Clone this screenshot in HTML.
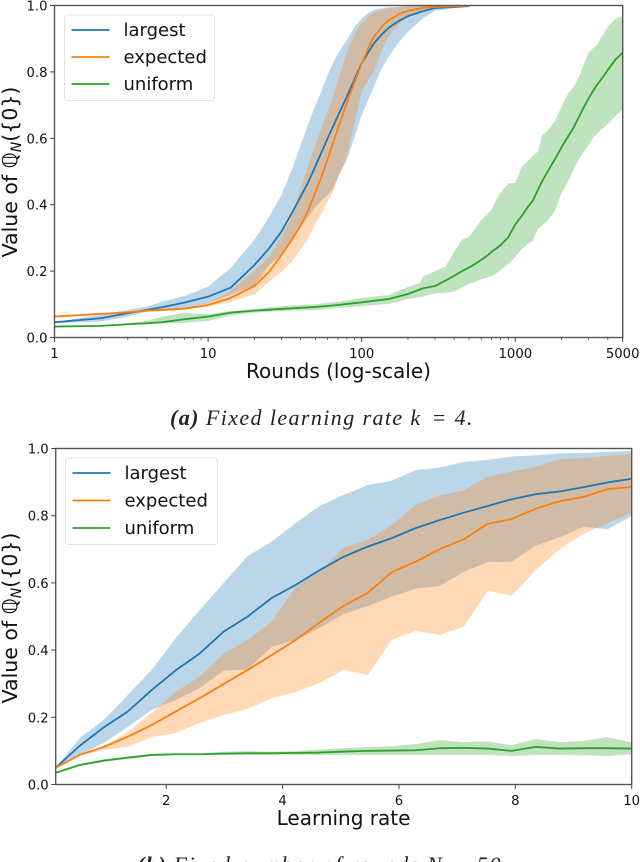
<!DOCTYPE html>
<html>
<head>
<meta charset="utf-8">
<style>
html,body{margin:0;padding:0;background:#fff;width:640px;height:862px;overflow:hidden}
svg{display:block;filter:blur(0.3px)}
text{font-family:"DejaVu Sans","Liberation Sans",sans-serif;fill:#111}
.cap{font-family:"Liberation Serif",serif;font-style:italic;fill:#222}
</style>
</head>
<body>
<svg id="fig" xmlns="http://www.w3.org/2000/svg" width="640" height="862" viewBox="0 0 640 862"></svg>
<script>
// Chart (a): rounds on a log axis
const roundsA = [1,2,3,4,5,7,10,14,20,25,30,35,40,45,50,55,60,65,70,80,90,100,110,120,135,150,175,200,250,300,500];
const largestMeanA = [.046,.058,.073,.083,.091,.105,.123,.15,.218,.269,.319,.374,.424,.469,.517,.56,.60,.635,.668,.725,.779,.826,.858,.886,.913,.933,.954,.968,.983,.992,.998];
const largestUpperA = [.047,.068,.083,.093,.108,.125,.153,.209,.294,.364,.429,.505,.58,.645,.70,.745,.791,.826,.856,.896,.936,.961,.978,.987,.992,.995,.996,.998,.999,.999,1];
const largestLowerA = [.043,.048,.063,.078,.082,.088,.104,.128,.158,.218,.251,.289,.334,.364,.392,.414,.429,.449,.484,.535,.605,.67,.715,.755,.811,.846,.891,.921,.961,.984,.998];
const expectedMeanA = [.063,.071,.076,.081,.083,.087,.098,.119,.155,.198,.248,.294,.337,.384,.439,.487,.538,.585,.63,.707,.77,.824,.871,.906,.936,.956,.974,.984,.993,.996,.999];
const expectedUpperA = [.064,.072,.078,.084,.086,.09,.105,.14,.203,.243,.303,.364,.449,.52,.583,.635,.683,.72,.776,.856,.914,.947,.966,.978,.988,.992,.995,.997,.998,.999,1];
const expectedLowerA = [.062,.07,.074,.078,.08,.083,.094,.107,.13,.168,.198,.228,.264,.299,.344,.375,.409,.439,.48,.545,.65,.74,.776,.80,.866,.908,.944,.966,.988,.995,.998];
const roundsUniformA = [1,2,3,4,5,7,10,14,20,30,50,70,100,150,200,240,250,300,350,400,450,500,550,600,650,700,750,800,900,1000,1100,1200,1300,1400,1500,1600,1800,2000,2200,2400,2600,2800,3000,3200,3400,3600,3800,4000,4500,5000];
const uniformMeanA = [.033,.035,.04,.043,.046,.055,.063,.075,.081,.086,.092,.098,.106,.116,.131,.145,.148,.155,.171,.186,.20,.211,.222,.234,.245,.258,.268,.278,.302,.341,.366,.392,.412,.444,.472,.495,.535,.573,.605,.633,.665,.695,.72,.742,.761,.776,.791,.806,.838,.858];
const uniformUpperA = [.034,.036,.042,.05,.063,.074,.07,.08,.085,.095,.10,.108,.119,.128,.152,.165,.183,.20,.213,.258,.294,.304,.329,.354,.369,.386,.414,.436,.464,.466,.514,.53,.547,.56,.61,.62,.65,.695,.735,.755,.786,.826,.858,.871,.883,.901,.918,.936,.961,.968];
const uniformLowerA = [.032,.034,.037,.04,.042,.044,.05,.066,.075,.08,.083,.089,.095,.101,.116,.122,.123,.133,.135,.138,.151,.161,.168,.175,.18,.185,.193,.203,.221,.243,.266,.281,.292,.326,.339,.349,.379,.434,.469,.507,.538,.56,.58,.60,.613,.625,.633,.643,.667,.687];
const xTicksA = [1,10,100,1000,5000];
const xMinorA = [2,3,4,5,6,7,8,9,20,30,40,50,60,70,80,90,200,300,400,500,600,700,800,900,2000,3000,4000];
const yTicks = [0,0.2,0.4,0.6,0.8,1.0];

// Chart (b): learning rate on a linear axis
const ratesB = [0.1,0.5125,0.925,1.3375,1.75,2.1625,2.575,2.9875,3.4,3.8125,4.225,4.6375,5.05,5.4625,5.875,6.2875,6.7,7.1125,7.525,7.9375,8.35,8.7625,9.175,9.5875,10];
const largestMeanB = [.05,.115,.17,.217,.281,.34,.39,.455,.50,.555,.594,.638,.678,.708,.733,.763,.787,.809,.829,.849,.864,.872,.885,.899,.91];
const largestUpperB = [.05,.138,.192,.266,.341,.436,.519,.60,.68,.723,.778,.829,.862,.891,.904,.936,.943,.96,.966,.976,.98,.985,.987,.99,.993];
const largestLowerB = [.05,.088,.123,.171,.222,.251,.287,.339,.342,.41,.43,.466,.507,.531,.559,.583,.591,.633,.662,.663,.711,.736,.767,.76,.799];
const expectedMeanB = [.05,.088,.112,.142,.177,.217,.257,.299,.341,.385,.43,.482,.532,.57,.632,.663,.70,.73,.776,.79,.821,.843,.856,.879,.886];
const expectedUpperB = [.05,.088,.112,.157,.213,.276,.321,.39,.43,.485,.589,.633,.705,.728,.772,.832,.86,.875,.916,.931,.946,.968,.972,.978,.984];
const expectedLowerB = [.05,.085,.103,.112,.141,.153,.183,.207,.225,.257,.275,.302,.341,.326,.43,.457,.445,.47,.576,.562,.638,.70,.746,.778,.81];
const uniformMeanB = [.035,.058,.071,.08,.088,.09,.09,.092,.093,.093,.094,.095,.098,.10,.101,.102,.108,.109,.107,.10,.112,.107,.108,.108,.107];
const uniformUpperB = [.035,.06,.075,.083,.09,.092,.092,.098,.099,.098,.099,.104,.108,.112,.114,.12,.132,.126,.128,.117,.135,.126,.13,.141,.125];
const uniformLowerB = [.035,.055,.067,.076,.085,.088,.088,.088,.088,.088,.089,.088,.088,.088,.088,.088,.088,.088,.088,.085,.088,.088,.087,.085,.09];
const xTicksB = [2,4,6,8,10];

const seriesNames = ['largest','expected','uniform'];
const seriesColors = ['#1f77b4','#ff7f0e','#2ca02c'];

const NS = 'http://www.w3.org/2000/svg';
const fig = document.getElementById('fig');
function mk(tag, attrs, parent){
  const e = document.createElementNS(NS, tag);
  for (const k in attrs) e.setAttribute(k, attrs[k]);
  (parent || fig).appendChild(e);
  return e;
}
function pathFrom(xs, ys, sx, sy){
  return xs.map((v,i)=>(i?'L':'M')+sx(v).toFixed(2)+' '+sy(ys[i]).toFixed(2)).join('');
}
function bandFrom(xs, up, lo, sx, sy){
  let d = pathFrom(xs, up, sx, sy);
  for (let i = xs.length-1; i >= 0; i--) d += 'L'+sx(xs[i]).toFixed(2)+' '+sy(lo[i]).toFixed(2);
  return d+'Z';
}
function drawChart(id, box, sx, series, xTicks, xMinor, xTickLabelFn, xTitle, xTitleX, xTitleY, legend, yTitleY){
  const sy = v => box.bottom - (box.bottom-box.top)*v;
  const root = mk('g', {});
  
  
  const clip = mk('clipPath', {id:id+'-clip'}, root);
  mk('rect', {x:box.left,y:box.top,width:box.right-box.left,height:box.bottom-box.top}, clip);
  const plot = mk('g', {'clip-path':'url(#'+id+'-clip)'}, root);
  
  
  series.forEach((s,i)=>{
    const band = mk('path', {d:bandFrom(s.x,s.up,s.lo,sx,sy),fill:seriesColors[i],'fill-opacity':0.3,stroke:'none'}, plot);
    
    
  });
  series.forEach((s,i)=>{
    const line = mk('path', {d:pathFrom(s.x,s.mean,sx,sy),fill:'none',stroke:seriesColors[i],'stroke-width':1.8,'stroke-linejoin':'round'}, plot);
    
    
  });
  // frame
  const frame = mk('rect', {x:box.left,y:box.top,width:box.right-box.left,height:box.bottom-box.top,fill:'none',stroke:'#555','stroke-width':1.4}, root);
  
  
  // y ticks
  yTicks.forEach(v=>{
    const t = mk('line', {x1:box.left-4.5,x2:box.left,y1:sy(v),y2:sy(v),stroke:'#444','stroke-width':1}, root);
    
    
    const l = mk('text', {x:box.left-7,y:sy(v)+5,'text-anchor':'end','font-size':13.2}, root);
    
    
    l.textContent = v.toFixed(1);
  });
  // x ticks
  xTicks.forEach(v=>{
    const t = mk('line', {x1:sx(v),x2:sx(v),y1:box.bottom,y2:box.bottom+4.5,stroke:'#444','stroke-width':1}, root);
    
    
    const l = mk('text', {x:sx(v),y:box.bottom+20.5,'text-anchor':'middle','font-size':13.2}, root);
    
    
    l.textContent = xTickLabelFn(v);
  });
  xMinor.forEach(v=>{
    const t = mk('line', {x1:sx(v),x2:sx(v),y1:box.bottom,y2:box.bottom+2.5,stroke:'#444','stroke-width':0.8}, root);
    
    
  });
  // axis titles
  const xt = mk('text', {x:xTitleX,y:xTitleY,'text-anchor':'middle','font-size':20}, root);
  
  
  xt.textContent = xTitle;
  const yt = mk('text', {transform:'translate(17,'+yTitleY+') rotate(-90)','text-anchor':'middle','font-size':20.5}, root);
  
  
  yt.appendChild(document.createTextNode('Value of ℚ'));
  const sub = mk('tspan', {'font-size':14,dy:4,'font-style':'italic'}, yt);
  sub.textContent = 'N';
  const rest = mk('tspan', {dy:-4}, yt);
  rest.textContent = '({0})';
  // legend
  const lg = mk('g', {}, root);
  
  
  mk('rect', {x:legend.x,y:legend.y,width:legend.w,height:legend.h,rx:3,fill:'#fff','fill-opacity':0.8,stroke:'#e2e2e2','stroke-width':1}, lg);
  seriesNames.forEach((n,i)=>{
    const y = legend.y + 15 + i*legend.step;
    const k = mk('line', {x1:legend.x+7,x2:legend.x+45,y1:y,y2:y,stroke:seriesColors[i],'stroke-width':1.8}, lg);
    
    
    const t = mk('text', {x:legend.x+59,y:y+6,'font-size':18}, lg);
    
    
    t.textContent = n;
  });
}

const boxA = {left:54.5,right:622.7,top:5.5,bottom:337.5};
const sxA = v => boxA.left + (boxA.right-boxA.left)*Math.log10(v)/Math.log10(5000);
drawChart('rounds', boxA, sxA, [
  {x:roundsA,mean:largestMeanA,up:largestUpperA,lo:largestLowerA},
  {x:roundsA,mean:expectedMeanA,up:expectedUpperA,lo:expectedLowerA},
  {x:roundsUniformA,mean:uniformMeanA,up:uniformUpperA,lo:uniformLowerA}
], xTicksA, xMinorA, v=>String(v), 'Rounds (log-scale)', 338.5, 378, {x:64.5,y:15,w:150,h:85.5,step:27}, 172);

const boxB = {left:55.7,right:631.7,top:448.5,bottom:784.5};
const sxB = v => boxB.left + (boxB.right-boxB.left)*(v-0.1)/9.9;
drawChart('learning-rate', boxB, sxB, [
  {x:ratesB,mean:largestMeanB,up:largestUpperB,lo:largestLowerB},
  {x:ratesB,mean:expectedMeanB,up:expectedUpperB,lo:expectedLowerB},
  {x:ratesB,mean:uniformMeanB,up:uniformUpperB,lo:uniformLowerB}
], xTicksB, [], v=>String(v), 'Learning rate', 343.5, 825, {x:65.5,y:458,w:152,h:86.5,step:27.5}, 618);

function caption(name, x, y, spacing, lead, body, tail){
  const c = mk('text', {class:'cap',x:x,y:y,'font-size':22,'letter-spacing':spacing});
  
  
  const b = mk('tspan', {'font-weight':'bold'}, c);
  b.textContent = lead;
  const r = mk('tspan', {dx:6}, c);
  r.textContent = body;
  const t = mk('tspan', {dx:3}, c);
  t.textContent = tail;
}
caption('caption-a', 170, 425, 1.4, '(a)', 'Fixed learning rate k', ' = 4.');
caption('caption-b', 137, 872, 1.6, '(b)', 'Fixed number of rounds N', ' = 50.');
</script>
</body>
</html>
